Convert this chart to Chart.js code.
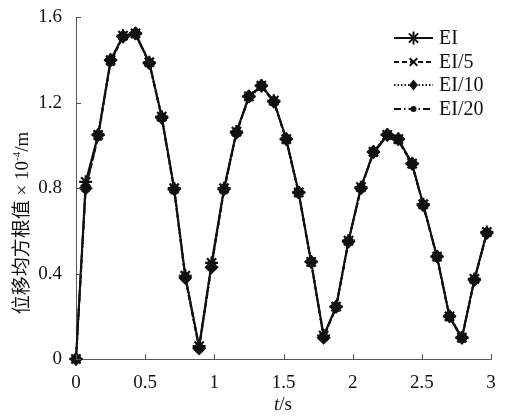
<!DOCTYPE html>
<html>
<head>
<meta charset="utf-8">
<script src="https://cdn.jsdelivr.net/npm/chart.js@4"></script>
<style>
  html, body { margin: 0; padding: 0; background: #fff; }
  #wrap { width: 506px; height: 419px; }
</style>
</head>
<body>
<div id="wrap"><canvas id="myChart"></canvas></div>
<script>
/* 位移均方根值 vs t, four bending stiffness cases */
const times = [0, 0.07, 0.16, 0.25, 0.34, 0.43, 0.53, 0.62, 0.71, 0.79, 0.89, 0.98,
  1.07, 1.16, 1.25, 1.34, 1.43, 1.52, 1.61, 1.70, 1.79, 1.88, 1.97, 2.06,
  2.15, 2.25, 2.33, 2.43, 2.51, 2.61, 2.70, 2.79, 2.88, 2.97];
const seriesNames = ["EI", "EI/5", "EI/10", "EI/20"];
const valuesEI = [0, 0.83, 1.05, 1.40, 1.515, 1.525, 1.39, 1.135, 0.80, 0.39, 0.06, 0.45,
  0.80, 1.065, 1.23, 1.28, 1.21, 1.03, 0.78, 0.455, 0.11, 0.245, 0.555, 0.805,
  0.97, 1.05, 1.03, 0.915, 0.725, 0.48, 0.20, 0.10, 0.375, 0.595];
const valuesEI5 = [0, 0.80, 1.04, 1.39, 1.51, 1.52, 1.39, 1.13, 0.79, 0.38, 0.05, 0.44,
  0.79, 1.06, 1.225, 1.275, 1.205, 1.025, 0.775, 0.45, 0.105, 0.24, 0.55, 0.80,
  0.965, 1.045, 1.025, 0.91, 0.72, 0.475, 0.195, 0.095, 0.37, 0.59];
const valuesEI10 = [0, 0.80, 1.05, 1.40, 1.51, 1.525, 1.385, 1.13, 0.795, 0.38, 0.05, 0.43,
  0.795, 1.06, 1.23, 1.28, 1.205, 1.03, 0.78, 0.455, 0.10, 0.245, 0.55, 0.80,
  0.97, 1.05, 1.03, 0.915, 0.72, 0.48, 0.20, 0.10, 0.37, 0.59];
const valuesEI20 = [0, 0.80, 1.045, 1.395, 1.51, 1.52, 1.385, 1.13, 0.79, 0.385, 0.055, 0.44,
  0.79, 1.06, 1.225, 1.275, 1.21, 1.025, 0.775, 0.45, 0.105, 0.24, 0.55, 0.80,
  0.965, 1.045, 1.025, 0.91, 0.72, 0.475, 0.195, 0.10, 0.37, 0.59];
const xTicks = [0, 0.5, 1, 1.5, 2, 2.5, 3];
const yTicks = [0, 0.4, 0.8, 1.2, 1.6];

const serif = '"Liberation Serif", "DejaVu Serif", "Noto Sans CJK SC", serif';
const styles = [
  { pointStyle: "star", radius: 6.5, dash: [], fill: false },
  { pointStyle: "crossRot", radius: 5, dash: [5, 3], fill: false },
  { pointStyle: "rectRot", radius: 5.5, dash: [1.5, 2], fill: true },
  { pointStyle: "circle", radius: 3, dash: [7, 3, 1.5, 3], fill: true },
];
const allValues = [valuesEI, valuesEI5, valuesEI10, valuesEI20];

const datasets = allValues.map((vals, i) => ({
  label: seriesNames[i],
  data: times.map((t, k) => ({ x: t, y: vals[k] })),
  borderColor: "#111",
  backgroundColor: "#111",
  borderWidth: 2,
  borderDash: styles[i].dash,
  pointStyle: styles[i].pointStyle,
  pointRadius: styles[i].radius,
  pointBorderWidth: 2.2,
  pointBorderColor: "#111",
  pointBackgroundColor: "#111",
  tension: 0,
  clip: false,
}));

function drawMarker(ctx, style, x, y) {
  ctx.save();
  ctx.strokeStyle = "#111";
  ctx.fillStyle = "#111";
  ctx.lineWidth = 2;
  ctx.setLineDash([]);
  const r = style.radius;
  ctx.beginPath();
  if (style.pointStyle === "star") {
    for (let a = 0; a < 4; a++) {
      const ang = a * Math.PI / 4;
      ctx.moveTo(x - r * Math.cos(ang), y - r * Math.sin(ang));
      ctx.lineTo(x + r * Math.cos(ang), y + r * Math.sin(ang));
    }
    ctx.stroke();
  } else if (style.pointStyle === "crossRot") {
    const d = r * 0.75;
    ctx.moveTo(x - d, y - d); ctx.lineTo(x + d, y + d);
    ctx.moveTo(x + d, y - d); ctx.lineTo(x - d, y + d);
    ctx.stroke();
  } else if (style.pointStyle === "rectRot") {
    ctx.moveTo(x, y - r); ctx.lineTo(x + r * 0.8, y); ctx.lineTo(x, y + r); ctx.lineTo(x - r * 0.8, y);
    ctx.closePath();
    ctx.fill();
  } else {
    ctx.arc(x, y, r, 0, Math.PI * 2);
    ctx.fill();
  }
  ctx.restore();
}

const decorPlugin = {
  id: "decor",
  afterDraw(chart) {
    const ctx = chart.ctx;
    const xs = chart.scales.x, ys = chart.scales.y;
    const area = chart.chartArea;
    // inward tick marks
    ctx.save();
    ctx.strokeStyle = "#555";
    ctx.lineWidth = 1;
    ctx.beginPath();
    xTicks.forEach(v => {
      const px = Math.round(xs.getPixelForValue(v)) + 0.5;
      ctx.moveTo(px, area.bottom); ctx.lineTo(px, area.bottom - 5);
    });
    yTicks.forEach(v => {
      const py = Math.round(ys.getPixelForValue(v)) + 0.5;
      ctx.moveTo(area.left, py); ctx.lineTo(area.left + 5, py);
    });
    ctx.stroke();
    ctx.restore();

    // x title: t/s with italic t
    ctx.save();
    ctx.fillStyle = "#111";
    ctx.textBaseline = "middle";
    ctx.font = "italic 19px " + serif;
    const wT = ctx.measureText("t").width;
    ctx.font = "19px " + serif;
    const wS = ctx.measureText("/s").width;
    let x0 = 283 - (wT + wS) / 2;
    ctx.font = "italic 19px " + serif;
    ctx.fillText("t", x0, 405);
    ctx.font = "19px " + serif;
    ctx.fillText("/s", x0 + wT, 405);
    ctx.restore();

    // y title, rotated, with superscript
    ctx.save();
    ctx.translate(23, 223);
    ctx.rotate(-Math.PI / 2);
    ctx.fillStyle = "#111";
    ctx.textBaseline = "middle";
    const main = "位移均方根值 × 10";
    const sup = "-4";
    const tail = "/m";
    ctx.font = "19px " + serif;
    const w1 = ctx.measureText(main).width;
    const w3 = ctx.measureText(tail).width;
    ctx.font = "11px " + serif;
    const w2 = ctx.measureText(sup).width;
    let sx = -(w1 + w2 + w3) / 2;
    ctx.font = "19px " + serif;
    ctx.fillText(main, sx, 0);
    ctx.font = "11px " + serif;
    ctx.fillText(sup, sx + w1, -6);
    ctx.font = "19px " + serif;
    ctx.fillText(tail, sx + w1 + w2, 0);
    ctx.restore();

    // legend
    const rows = [38, 62, 85, 109];
    ctx.save();
    rows.forEach((ry, i) => {
      ctx.strokeStyle = "#111";
      ctx.lineWidth = 2;
      ctx.setLineDash(styles[i].dash);
      ctx.beginPath();
      ctx.moveTo(394, ry); ctx.lineTo(433, ry);
      ctx.stroke();
      drawMarker(ctx, styles[i], 413.5, ry);
      ctx.fillStyle = "#111";
      ctx.font = "20px " + serif;
      ctx.textBaseline = "middle";
      ctx.fillText(seriesNames[i], 439, ry + 1);
    });
    ctx.restore();
  }
};

const config = {
  type: "line",
  data: { datasets: datasets },
  options: {
    responsive: true,
    maintainAspectRatio: false,
    animation: false,
    layout: { padding: { top: 17, right: 15, left: 0, bottom: 0 } },
    plugins: { legend: { display: false }, tooltip: { enabled: false } },
    scales: {
      x: {
        type: "linear",
        min: 0,
        max: 3,
        afterBuildTicks: s => { s.ticks = xTicks.map(v => ({ value: v })); },
        afterFit: s => { s.height = 60; },
        grid: { display: false },
        border: { display: true, color: "#555", width: 1 },
        ticks: {
          color: "#111", padding: 5, maxRotation: 0,
          font: { family: serif, size: 19 },
          callback: v => String(v),
        },
      },
      y: {
        type: "linear",
        min: 0,
        max: 1.6,
        afterBuildTicks: s => { s.ticks = yTicks.map(v => ({ value: v })); },
        afterFit: s => { s.width = 76; },
        grid: { display: false },
        border: { display: true, color: "#555", width: 1 },
        ticks: {
          color: "#111", padding: 6,
          font: { family: serif, size: 19 },
          callback: v => String(v),
        },
      },
    },
  },
  plugins: [decorPlugin],
};
var myChart = new Chart(document.getElementById("myChart"), config);
</script>
</body>
</html>
